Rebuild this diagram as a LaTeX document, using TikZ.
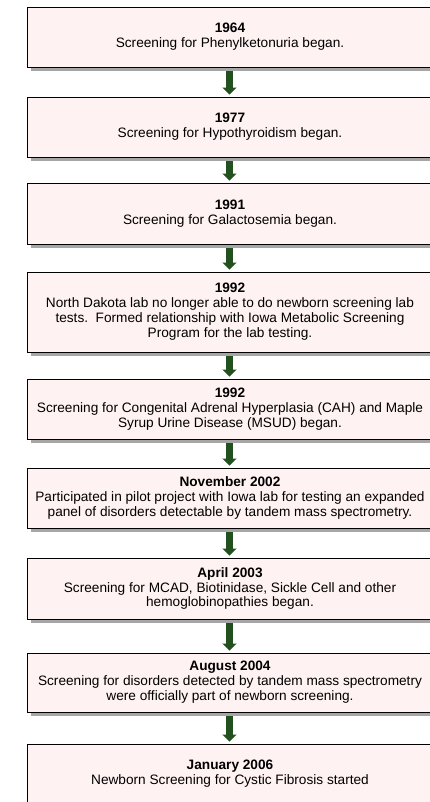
\documentclass[tikz,border=0pt]{standalone}
\usepackage{fontspec}
\setmainfont{Liberation Sans}
\usetikzlibrary{arrows.meta,shadows}
\definecolor{boxfill}{RGB}{255,242,242}
\definecolor{arrowgreen}{RGB}{34,80,30}
\tikzset{
  evbox/.style={draw=black, line width=0.9bp, fill=boxfill, minimum width=406bp,
    inner sep=0pt, align=center, font=\fontsize{13.7}{15}\selectfont,
    drop shadow={shadow xshift=4.5bp, shadow yshift=-4bp, fill=black!35, opacity=1}},
  evarrow/.style={draw=arrowgreen, line width=7bp, -{Triangle[width=14bp,length=7bp]}, shorten <=4bp}
}
\begin{document}
\begin{tikzpicture}[x=1bp,y=-1bp]
\useasboundingbox (0,0) rectangle (429,802);
\node[evbox, minimum height=60bp] (b1) at (230,37) {\textbf{1964}\\Screening for Phenylketonuria began.};
\node[evbox, minimum height=60bp] (b2) at (230,127) {\textbf{1977}\\Screening for Hypothyroidism began.};
\node[evbox, minimum height=61bp] (b3) at (230,213.5) {\textbf{1991}\\Screening for Galactosemia began.};
\node[evbox, minimum height=80bp] (b4) at (230,312) {\textbf{1992}\\North Dakota lab no longer able to do newborn screening lab\\tests.\ \ Formed relationship with Iowa Metabolic Screening\\Program for the lab testing.};
\node[evbox, minimum height=60bp] (b5) at (230,409) {\textbf{1992}\\Screening for Congenital Adrenal Hyperplasia (CAH) and Maple\\Syrup Urine Disease (MSUD) began.};
\node[evbox, minimum height=60bp] (b6) at (230,498) {\textbf{November 2002}\\Participated in pilot project with Iowa lab for testing an expanded\\panel of disorders detectable by tandem mass spectrometry.};
\node[evbox, minimum height=61bp] (b7) at (230,588.5) {\textbf{April 2003}\\Screening for MCAD, Biotinidase, Sickle Cell and other\\hemoglobinopathies began.};
\node[evbox, minimum height=59bp] (b8) at (230,682.5) {\textbf{August 2004}\\Screening for disorders detected by tandem mass spectrometry\\were officially part of newborn screening.};
\node[evbox, minimum height=60bp] (b9) at (230,774) {\textbf{January 2006}\\Newborn Screening for Cystic Fibrosis started};
\foreach \a/\b in {b1/b2,b2/b3,b3/b4,b4/b5,b5/b6,b6/b7,b7/b8,b8/b9}{
  \draw[evarrow] ([xshift=-0.5bp]\a.south) -- ([xshift=-0.5bp,yshift=2bp]\b.north);
}
\end{tikzpicture}
\end{document}
